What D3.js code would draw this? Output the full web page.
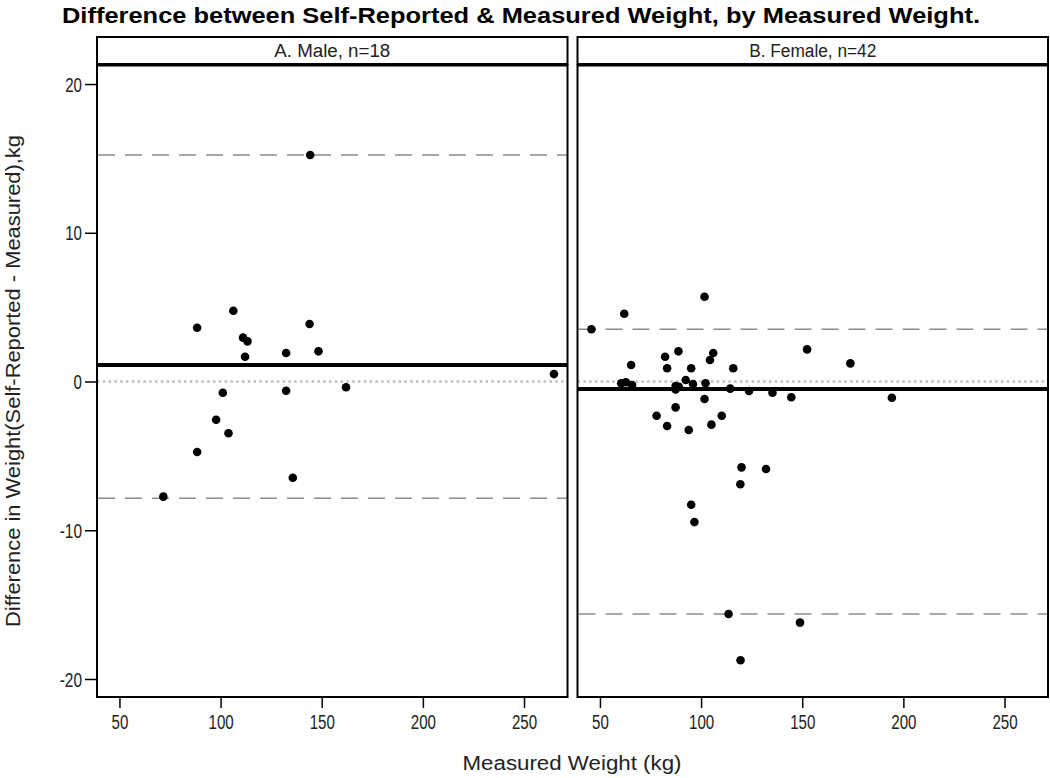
<!DOCTYPE html>
<html><head><meta charset="utf-8">
<script src="https://cdn.jsdelivr.net/npm/d3@7"></script>
<style>body{margin:0;background:#fff;} text{font-family:"Liberation Sans",Arial,sans-serif;fill:#222;}</style>
</head><body>
<svg id="c" width="1050" height="778"></svg>
<script>
const panelLabels = ["A. Male, n=18", "B. Female, n=42"];
const xTicks = [50, 100, 150, 200, 250];
const yTicks = [-20, -10, 0, 10, 20];
const maleWeight = [106.3, 88.4, 144.0, 111.1, 113.3, 112.1, 132.4, 148.4, 101.1, 132.4, 162.0, 97.8, 103.9, 88.4, 135.7, 71.7, 144.3, 264.8];
const maleDiff   = [4.76, 3.62, 3.87, 2.95, 2.70, 1.67, 1.92, 2.03, -0.75, -0.62, -0.39, -2.57, -3.48, -4.74, -6.47, -7.74, 15.23, 0.50];
const femaleWeight = [45.8, 62.0, 101.7, 65.4, 82.2, 88.8, 106.0, 104.4, 152.4, 83.2, 95.1, 115.9, 60.5, 65.9, 92.4, 87.4, 87.4, 96.0, 102.2, 114.4, 123.7, 135.3, 144.6, 101.7, 87.4, 78.0, 110.2, 83.2, 105.1, 93.9, 120.0, 132.1, 173.8, 194.3, 119.4, 95.1, 96.7, 113.6, 148.9, 119.5, 62.8, 89.0];
const femaleDiff   = [3.51, 4.56, 5.70, 1.11, 1.67, 2.03, 1.92, 1.45, 2.16, 0.89, 0.89, 0.89, -0.12, -0.24, 0.10, -0.30, -0.53, -0.17, -0.12, -0.48, -0.64, -0.75, -1.06, -1.18, -1.74, -2.30, -2.30, -2.99, -2.90, -3.26, -5.77, -5.88, 1.22, -1.09, -6.91, -8.28, -9.45, -15.63, -16.21, -18.74, -0.05, -0.35];
const meanDiff  = [1.11, -0.50];
const upperLim  = [15.23, 3.51];
const lowerLim  = [-7.85, -15.63];

const svg = d3.select("#c");
const plotTop = 65, plotBottom = 697;
const panelX = [[97, 567.5], [577.5, 1048]];
const y = d3.scaleLinear().domain([-21.21, 21.28]).range([plotBottom, plotTop]);
const data = [
  maleWeight.map((w, i) => ({w, d: maleDiff[i]})),
  femaleWeight.map((w, i) => ({w, d: femaleDiff[i]}))
];
const labLen = s => Array.from(s).reduce((a, c) => a + (c === "-" ? 5.5 : 8.4), 0);

// Title
svg.append("text").attr("x", 521).attr("y", 23).attr("text-anchor", "middle")
  .attr("textLength", 918).attr("lengthAdjust", "spacingAndGlyphs")
  .style("font-size", "22px").style("font-weight", "bold").style("fill", "#000")
  .text("Difference between Self-Reported & Measured Weight, by Measured Weight.");

panelX.forEach((px, p) => {
  const x = d3.scaleLinear().domain([38.9, 271.5]).range(px);
  const g = svg.append("g");
  // strip
  g.append("rect").attr("x", px[0]).attr("y", 37).attr("width", px[1]-px[0]).attr("height", 27)
    .attr("fill", "#fff").attr("stroke", "#000").attr("stroke-width", 2);
  g.append("text").attr("x", (px[0]+px[1])/2).attr("y", 57).attr("text-anchor", "middle")
    .style("font-size", "18px").attr("textLength", p === 0 ? 116 : 127).attr("lengthAdjust","spacingAndGlyphs")
    .text(panelLabels[p]);
  // zero dotted
  g.append("line").attr("x1", px[0]).attr("x2", px[1]).attr("y1", y(0)).attr("y2", y(0))
    .attr("stroke", "#bdbdbd").attr("stroke-width", 2.5).attr("stroke-dasharray", "2.5,3.3");
  // limits
  [upperLim[p], lowerLim[p]].forEach(v => {
    g.append("line").attr("x1", px[0]+1).attr("x2", px[1]).attr("y1", y(v)).attr("y2", y(v))
      .attr("stroke", "#8c8c8c").attr("stroke-width", 1.5).attr("stroke-dasharray", "17,10");
  });
  // mean
  g.append("line").attr("x1", px[0]).attr("x2", px[1]).attr("y1", y(meanDiff[p])).attr("y2", y(meanDiff[p]))
    .attr("stroke", "#000").attr("stroke-width", 4);
  // points
  g.selectAll("circle").data(data[p]).join("circle")
    .attr("cx", d => x(d.w)).attr("cy", d => y(d.d)).attr("r", 4.3).attr("fill", "#000");
  // frame
  g.append("rect").attr("x", px[0]).attr("y", plotTop).attr("width", px[1]-px[0]).attr("height", plotBottom-plotTop)
    .attr("fill", "none").attr("stroke", "#000").attr("stroke-width", 2);
  g.append("line").attr("x1", px[0]).attr("x2", px[1]).attr("y1", 65).attr("y2", 65)
    .attr("stroke", "#000").attr("stroke-width", 3);
  // x axis
  const xa = g.append("g").attr("transform", `translate(0,${plotBottom})`)
    .call(d3.axisBottom(x).tickValues(xTicks).tickSize(11).tickPadding(5).tickFormat(d => String(d)));
  xa.select(".domain").remove();
  xa.selectAll("line").attr("stroke", "#000").attr("stroke-width", 1.5);
  xa.selectAll("text").style("font-size", "20px").style("fill", "#222")
    .attr("dy", null).attr("y", 32)
    .attr("textLength", d => labLen(String(d))).attr("lengthAdjust", "spacingAndGlyphs");
  if (p === 0) {
    const ya = g.append("g").attr("transform", `translate(${px[0]},0)`)
      .call(d3.axisLeft(y).tickValues(yTicks).tickSize(12).tickPadding(3).tickFormat(d => String(d)));
    ya.select(".domain").remove();
    ya.selectAll("line").attr("stroke", "#000").attr("stroke-width", 1.5);
    ya.selectAll("text").style("font-size", "20px").style("fill", "#222").attr("dy", "0.36em")
      .attr("textLength", d => labLen(String(d))).attr("lengthAdjust", "spacingAndGlyphs");
  }
});

// axis titles
svg.append("text").attr("x", 572).attr("y", 770).attr("text-anchor", "middle")
  .style("font-size", "20px").attr("textLength", 219).attr("lengthAdjust","spacingAndGlyphs")
  .text("Measured Weight (kg)");
svg.append("text").attr("transform", "translate(20,381) rotate(-90)").attr("text-anchor", "middle")
  .style("font-size", "20px").attr("textLength", 492).attr("lengthAdjust","spacingAndGlyphs")
  .text("Difference in Weight(Self-Reported - Measured),kg");
</script>
</body></html>
